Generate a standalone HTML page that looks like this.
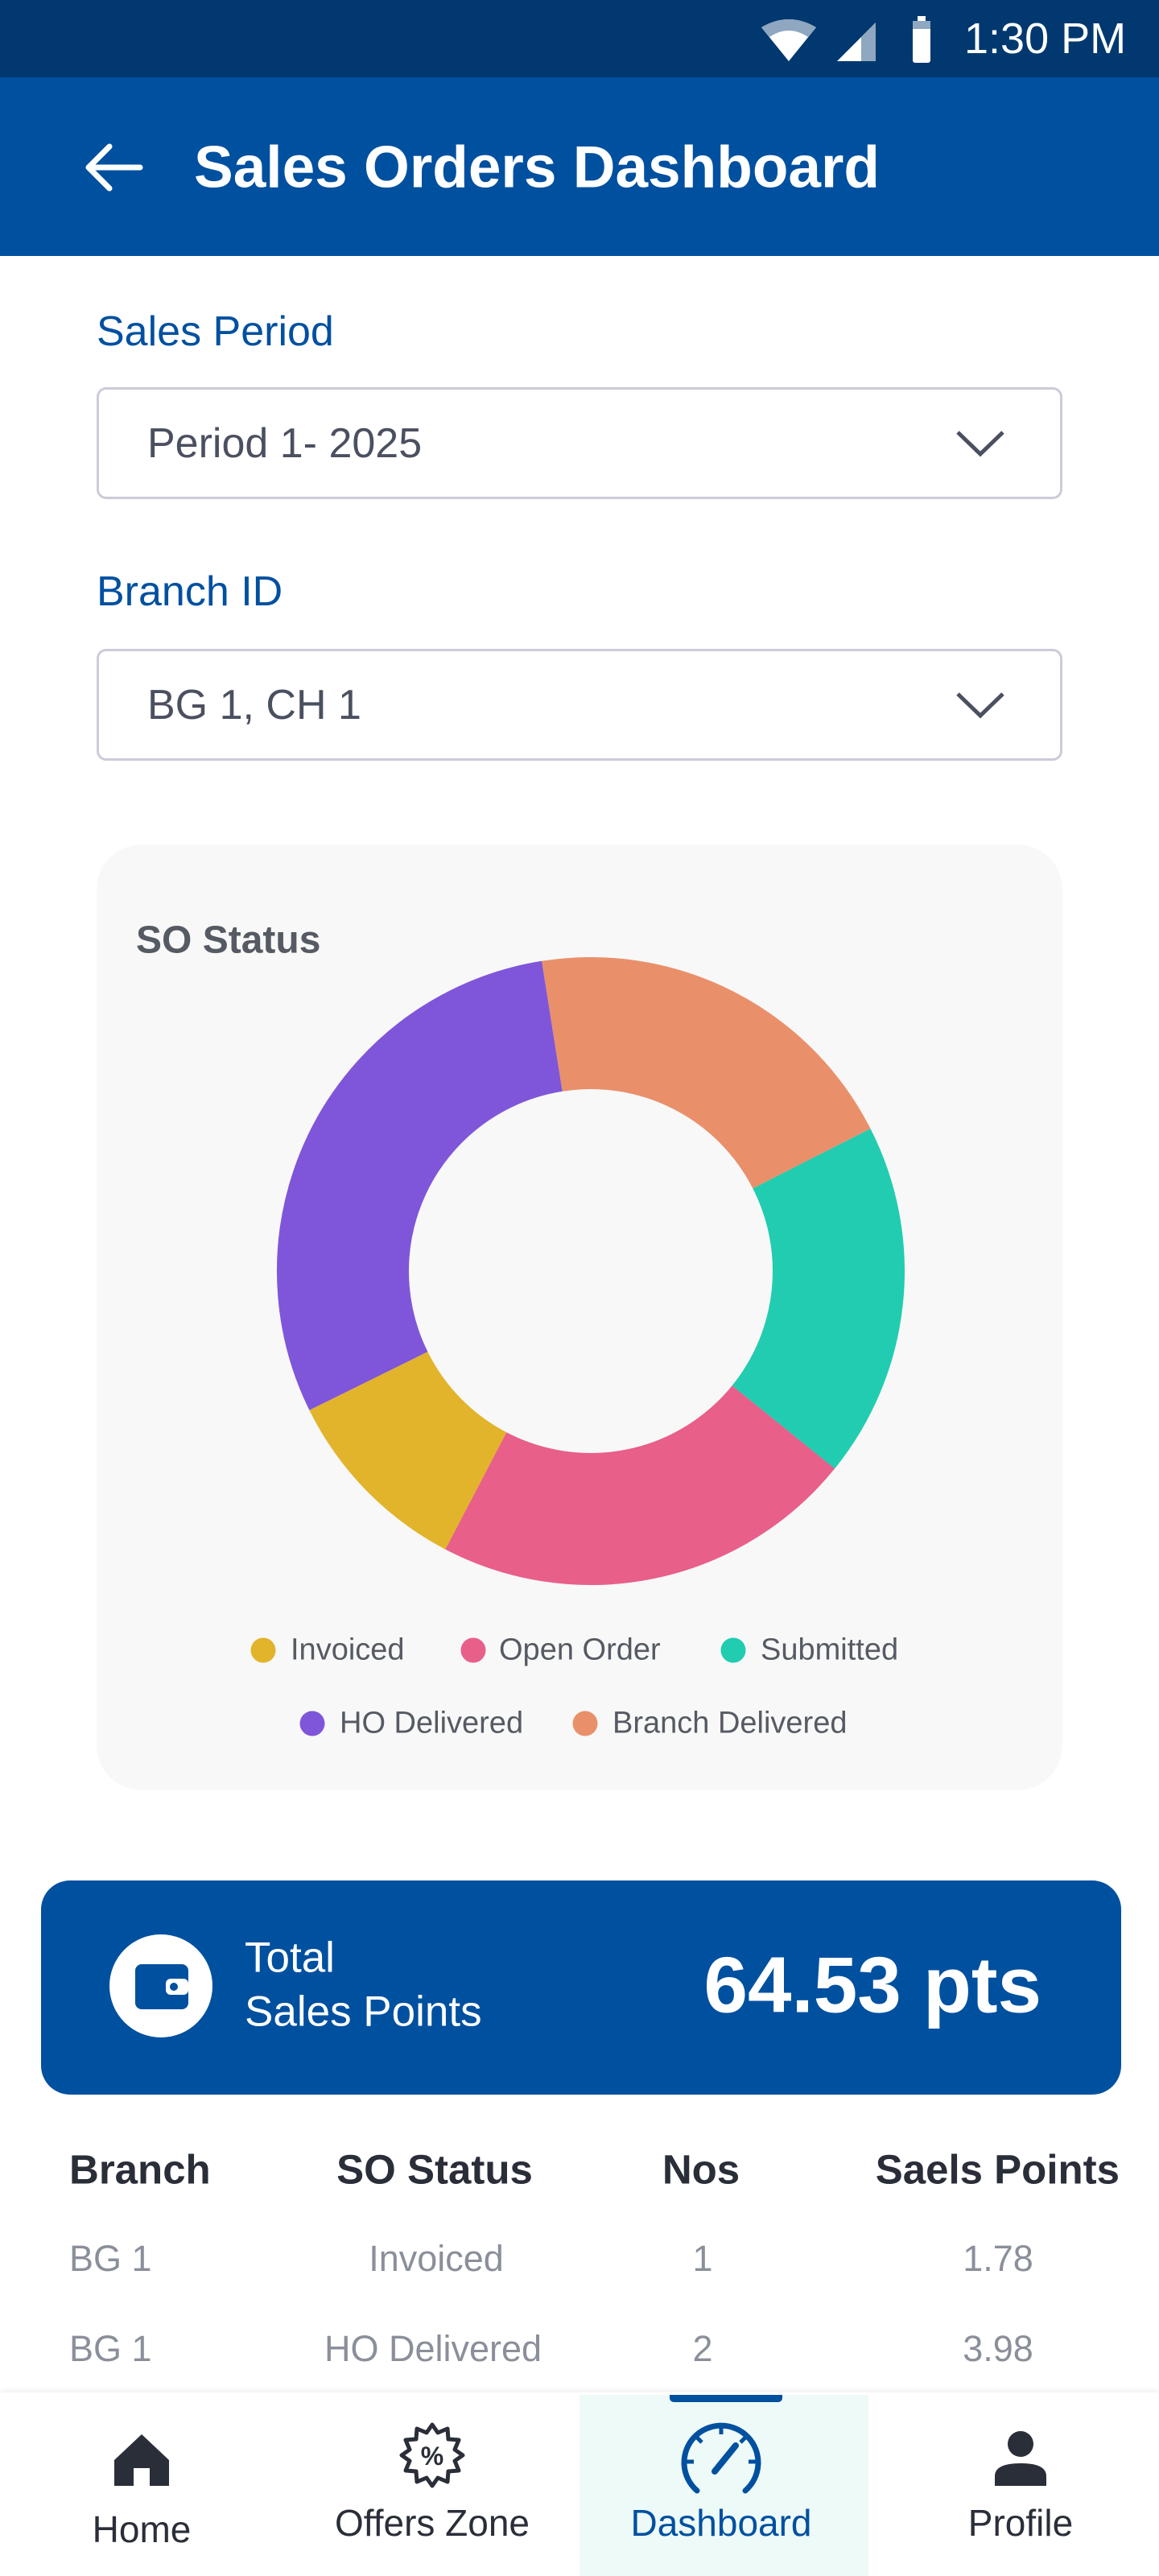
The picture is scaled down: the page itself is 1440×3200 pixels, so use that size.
<!DOCTYPE html>
<html><head><meta charset="utf-8">
<style>
*{margin:0;padding:0;box-sizing:border-box}
body{width:1440px;height:3200px;position:relative;background:#fff;font-family:"Liberation Sans",sans-serif;overflow:hidden}
.a{position:absolute;white-space:nowrap}
.lbl{color:#0050a0;font-size:52px;left:120px}
.dd{position:absolute;left:120px;width:1200px;height:139px;border:3px solid #cdcbd9;border-radius:12px}
.dd span{position:absolute;left:60px;top:50%;transform:translateY(-50%);font-size:52px;color:#4b5060}
.dd svg{position:absolute;right:68px;top:50%;transform:translateY(-50%)}
.leg{font-size:38px;color:#555a63;transform:translateY(-50%)}
.dot{position:absolute;width:31px;height:31px;border-radius:50%;transform:translate(-50%,-50%)}
.th{font-size:51px;font-weight:bold;color:#2a2e38;top:2695px;transform:translateY(-50%)}
.td{font-size:45px;color:#8a8f9a;transform:translateY(-50%)}
.c{transform:translate(-50%,-50%)}
.nav{font-size:46px;color:#2a2e38;transform:translate(-50%,-50%)}
</style></head><body>
<div class="a" style="left:0;top:0;width:1440px;height:96px;background:#00386f"></div>
<svg class="a" style="left:940px;top:20px" width="200" height="60" viewBox="0 0 200 60">
<path d="M6 14 Q40 -6 74 14 L40 56 Z" fill="#fff"/>
<path d="M6 14 Q40 -6 74 14 L64 26 Q40 10 16 26 Z" fill="#8fa7c0"/>
<path d="M100 56 L148 8 L148 56 Z" fill="#fff"/>
<path d="M130 26 L148 8 L148 56 L130 56 Z" fill="#8fa7c0"/>
</svg>
<svg class="a" style="left:1130px;top:18px" width="30" height="62"><rect x="4" y="8" width="22" height="52" rx="3" fill="#fff"/><rect x="10" y="2" width="10" height="8" fill="#fff"/><rect x="4" y="8" width="22" height="10" fill="#8fa7c0"/></svg>
<div class="a" style="left:1198px;top:48px;transform:translateY(-50%);font-size:54px;color:#fff">1:30 PM</div>
<div class="a" style="left:0;top:96px;width:1440px;height:222px;background:#0050a0"></div>
<svg class="a" style="left:104px;top:176px" width="74" height="64" viewBox="0 0 74 64"><path d="M70 32 H8 M32 6 L6 32 L32 58" stroke="#fff" stroke-width="7" fill="none" stroke-linecap="round" stroke-linejoin="round"/></svg>
<div class="a" style="left:241px;top:208px;transform:translateY(-50%);font-size:73px;font-weight:bold;color:#fff">Sales Orders Dashboard</div>
<div class="a lbl" style="top:412px;transform:translateY(-50%)">Sales Period</div>
<div class="dd" style="top:481px"><span>Period 1- 2025</span><svg width="62" height="34"><path d="M3 3 L31 30 L59 3" stroke="#4b5060" stroke-width="5" fill="none"/></svg></div>
<div class="a lbl" style="top:735px;transform:translateY(-50%)">Branch ID</div>
<div class="dd" style="top:806px"><span>BG 1, CH 1</span><svg width="62" height="34"><path d="M3 3 L31 30 L59 3" stroke="#4b5060" stroke-width="5" fill="none"/></svg></div>
<div class="a" style="left:120px;top:1049px;width:1200px;height:1175px;background:#f8f8f8;border-radius:56px"></div>
<div class="a" style="left:169px;top:1168px;transform:translateY(-50%);font-size:48px;font-weight:bold;color:#555a63">SO Status</div>
<svg class="a" style="left:334px;top:1179px" width="800" height="800" viewBox="-400 -400 800 800">
<g fill="none" stroke-width="164">
<circle r="308" stroke="#e9906b" stroke-dasharray="387 1935.2" transform="rotate(261)"/>
<circle r="308" stroke="#22ccb0" stroke-dasharray="354.8 1935.2" transform="rotate(-27)"/>
<circle r="308" stroke="#e85f8a" stroke-dasharray="422.5 1935.2" transform="rotate(39)"/>
<circle r="308" stroke="#e2b42c" stroke-dasharray="194.1 1935.2" transform="rotate(117.6)"/>
<circle r="308" stroke="#7f56d9" stroke-dasharray="576.8 1935.2" transform="rotate(153.7)"/>
</g></svg>
<div class="dot" style="left:327px;top:2050px;background:#e2b42c"></div>
<div class="a leg" style="left:361px;top:2050px">Invoiced</div>
<div class="dot" style="left:588px;top:2050px;background:#e85f8a"></div>
<div class="a leg" style="left:620px;top:2050px">Open Order</div>
<div class="dot" style="left:911px;top:2050px;background:#22ccb0"></div>
<div class="a leg" style="left:945px;top:2050px">Submitted</div>
<div class="dot" style="left:388px;top:2141px;background:#7f56d9"></div>
<div class="a leg" style="left:422px;top:2141px">HO Delivered</div>
<div class="dot" style="left:727px;top:2141px;background:#e9906b"></div>
<div class="a leg" style="left:761px;top:2141px">Branch Delivered</div>
<div class="a" style="left:51px;top:2336px;width:1342px;height:266px;background:#0050a0;border-radius:36px"></div>
<div class="a" style="left:136px;top:2403px;width:128px;height:128px;border-radius:50%;background:#fff"></div>
<svg class="a" style="left:166px;top:2434px" width="70" height="64" viewBox="0 0 70 64"><rect x="2" y="6" width="66" height="56" rx="8" fill="#0050a0"/><rect x="40" y="24" width="28" height="20" rx="6" fill="#fff"/><circle cx="50" cy="34" r="5" fill="#0050a0"/></svg>
<div class="a" style="left:304px;top:2432px;transform:translateY(-50%);font-size:53px;color:#fff">Total</div>
<div class="a" style="left:304px;top:2499px;transform:translateY(-50%);font-size:53px;color:#fff">Sales Points</div>
<div class="a" style="right:146px;top:2466px;transform:translateY(-50%);font-size:98px;font-weight:bold;color:#fff">64.53 pts</div>
<div class="a th" style="left:86px">Branch</div>
<div class="a th" style="left:540px;transform:translate(-50%,-50%)">SO Status</div>
<div class="a th" style="left:871px;transform:translate(-50%,-50%)">Nos</div>
<div class="a th" style="right:49px">Saels Points</div>
<div class="a td" style="left:86px;top:2806px">BG 1</div>
<div class="a td c" style="left:542px;top:2806px">Invoiced</div>
<div class="a td c" style="left:873px;top:2806px">1</div>
<div class="a td c" style="left:1240px;top:2806px">1.78</div>
<div class="a td" style="left:86px;top:2918px">BG 1</div>
<div class="a td c" style="left:538px;top:2918px">HO Delivered</div>
<div class="a td c" style="left:873px;top:2918px">2</div>
<div class="a td c" style="left:1240px;top:2918px">3.98</div>
<div class="a" style="left:0;top:2972px;width:1440px;height:228px;background:#fff;box-shadow:0 -3px 6px rgba(0,0,0,0.06)"></div>
<div class="a" style="left:720px;top:2975px;width:359px;height:225px;background:#eefaf8"></div>
<div class="a" style="left:832px;top:2975px;width:140px;height:9px;background:#0050a0;border-radius:0 0 5px 5px"></div>
<svg class="a" style="left:140px;top:3022px" width="72" height="68" viewBox="0 0 72 68"><path d="M36 2 L70 34 V66 H46 V44 H26 V66 H2 V34 Z" fill="#2a2e38" stroke-linejoin="round"/></svg>
<div class="a nav" style="left:176px;top:3142px">Home</div>
<svg class="a" style="left:495px;top:3008px" width="84" height="84" viewBox="-42 -42 84 84"><polygon points="0,-38 7,-28 19,-33 20,-20 33,-19 28,-7 38,0 28,7 33,19 20,20 19,33 7,28 0,38 -7,28 -19,33 -20,20 -33,19 -28,7 -38,0 -28,-7 -33,-19 -20,-20 -19,-33 -7,-28" fill="none" stroke="#2a2e38" stroke-width="5" stroke-linejoin="round"/><text x="0" y="12" text-anchor="middle" font-size="32" font-weight="bold" fill="#2a2e38" font-family="Liberation Sans">%</text></svg>
<div class="a nav" style="left:537px;top:3134px">Offers Zone</div>
<svg class="a" style="left:846px;top:3008px" width="100" height="100" viewBox="-50 -50 100 100"><path d="M-30 36 A46 46 0 1 1 30 36" fill="none" stroke="#0050a0" stroke-width="7" stroke-linecap="round"/><path d="M-8 12 L18 -20" stroke="#0050a0" stroke-width="8" stroke-linecap="round"/><g stroke="#0050a0" stroke-width="5"><path d="M0 -44 V-34"/><path d="M-44 0 H-34"/><path d="M44 0 H34"/><path d="M-31 -31 L-24 -24"/><path d="M31 -31 L24 -24"/></g></svg>
<div class="a nav" style="left:896px;top:3134px;color:#0050a0">Dashboard</div>
<svg class="a" style="left:1234px;top:3018px" width="68" height="72" viewBox="0 0 68 72"><circle cx="34" cy="18" r="16" fill="#2a2e38"/><path d="M2 70 V58 Q2 42 34 42 Q66 42 66 58 V70 Z" fill="#2a2e38"/></svg>
<div class="a nav" style="left:1268px;top:3134px">Profile</div>
</body></html>
